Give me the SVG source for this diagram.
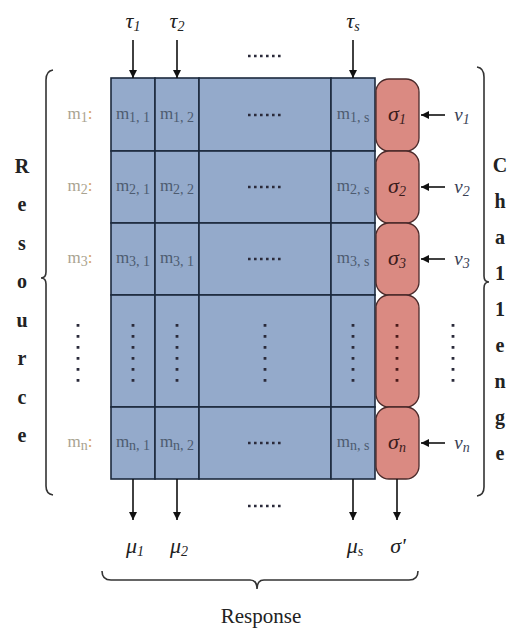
<svg xmlns="http://www.w3.org/2000/svg" width="512" height="633" viewBox="0 0 512 633">
<style>
.cell{fill:#94aacb;stroke:#1c2a3e;stroke-width:1.6}
.sig{fill:#da8a82;stroke:#4a2a2a;stroke-width:1.3}
.ct{font-family:"Liberation Serif",serif;font-size:17px;fill:#4d5b70;text-anchor:middle}
.lt{font-family:"Liberation Serif",serif;font-size:17px;fill:#a9a391;text-anchor:middle}
.gr{font-family:"Liberation Serif",serif;font-style:italic;font-size:22px;fill:#222;text-anchor:middle}
.sr{font-family:"Liberation Serif",serif;font-style:italic;font-size:22px;fill:#3a1c1c;text-anchor:middle}
.vv{font-family:"Liberation Serif",serif;font-style:italic;font-size:19px;fill:#3a3f55;text-anchor:middle}
.big{font-family:"Liberation Serif",serif;font-weight:bold;font-size:20px;fill:#222;text-anchor:middle}
.resp{font-family:"Liberation Serif",serif;font-size:21px;fill:#222;text-anchor:middle}
.sub{font-size:14px}
.arr{stroke:#111;stroke-width:1.6;fill:none}
.brace{stroke:#333;stroke-width:1.6;fill:none}
.hd{stroke:#2a2a3a;stroke-width:2.6;stroke-dasharray:2.6 3.4;fill:none}
.vd{stroke:#2a2a3a;stroke-width:2.8;stroke-dasharray:2.8 8.2;fill:none}
.vdr{stroke:#4a1a1a;stroke-width:2.8;stroke-dasharray:2.8 8.2;fill:none}
</style>
<defs>
<marker id="ahb" viewBox="0 0 10 10" refX="10" refY="5" markerWidth="14" markerHeight="8" markerUnits="userSpaceOnUse" orient="auto">
<path d="M0,0 L10,5 L0,10 z" fill="#111"/>
</marker>
</defs>

<g id="grid">
<rect class="cell" x="111" y="78" width="44" height="73"/>
<rect class="cell" x="155" y="78" width="44" height="73"/>
<rect class="cell" x="199" y="78" width="132" height="73"/>
<rect class="cell" x="331" y="78" width="44" height="73"/>
<rect class="cell" x="111" y="151" width="44" height="72"/>
<rect class="cell" x="155" y="151" width="44" height="72"/>
<rect class="cell" x="199" y="151" width="132" height="72"/>
<rect class="cell" x="331" y="151" width="44" height="72"/>
<rect class="cell" x="111" y="223" width="44" height="72"/>
<rect class="cell" x="155" y="223" width="44" height="72"/>
<rect class="cell" x="199" y="223" width="132" height="72"/>
<rect class="cell" x="331" y="223" width="44" height="72"/>
<rect class="cell" x="111" y="295" width="44" height="112"/>
<rect class="cell" x="155" y="295" width="44" height="112"/>
<rect class="cell" x="199" y="295" width="132" height="112"/>
<rect class="cell" x="331" y="295" width="44" height="112"/>
<rect class="cell" x="111" y="407" width="44" height="72"/>
<rect class="cell" x="155" y="407" width="44" height="72"/>
<rect class="cell" x="199" y="407" width="132" height="72"/>
<rect class="cell" x="331" y="407" width="44" height="72"/>
</g>

<g id="cell-texts">
<text class="ct" x="133" y="119">m<tspan class="sub" dy="3">1, 1</tspan></text>
<text class="ct" x="177" y="119">m<tspan class="sub" dy="3">1, 2</tspan></text>
<text class="ct" x="353" y="119">m<tspan class="sub" dy="3">1, s</tspan></text>
<text class="ct" x="133" y="191">m<tspan class="sub" dy="3">2, 1</tspan></text>
<text class="ct" x="177" y="191">m<tspan class="sub" dy="3">2, 2</tspan></text>
<text class="ct" x="353" y="191">m<tspan class="sub" dy="3">2, s</tspan></text>
<text class="ct" x="133" y="263">m<tspan class="sub" dy="3">3, 1</tspan></text>
<text class="ct" x="177" y="263">m<tspan class="sub" dy="3">3, 1</tspan></text>
<text class="ct" x="353" y="263">m<tspan class="sub" dy="3">3, s</tspan></text>
<text class="ct" x="133" y="447">m<tspan class="sub" dy="3">n, 1</tspan></text>
<text class="ct" x="177" y="447">m<tspan class="sub" dy="3">n, 2</tspan></text>
<text class="ct" x="353" y="447">m<tspan class="sub" dy="3">n, s</tspan></text>
<path class="hd" d="M248,115 H283 M248,187 H283 M248,259 H283 M248,443 H283 M248,506 H283 M248,56 H283"/>
<path class="vd" d="M133,324 V383 M177,324 V383 M265,324 V383 M353,324 V383 M78,324 V383 M453,324 V383"/>
</g>

<g id="row-labels">
<text class="lt" x="80" y="119">m<tspan class="sub" dy="3">1</tspan><tspan dy="-3" fill="#d9a15c">:</tspan></text>
<text class="lt" x="80" y="191">m<tspan class="sub" dy="3">2</tspan><tspan dy="-3" fill="#d9a15c">:</tspan></text>
<text class="lt" x="80" y="263">m<tspan class="sub" dy="3">3</tspan><tspan dy="-3" fill="#d9a15c">:</tspan></text>
<text class="lt" x="80" y="447">m<tspan class="sub" dy="3">n</tspan><tspan dy="-3" fill="#d9a15c">:</tspan></text>
</g>

<g id="sigma">
<rect class="sig" x="376" y="79" width="43" height="72" rx="13"/>
<rect class="sig" x="376" y="151" width="43" height="72" rx="13"/>
<rect class="sig" x="376" y="223" width="43" height="72" rx="13"/>
<rect class="sig" x="376" y="295" width="43" height="112" rx="13"/>
<rect class="sig" x="376" y="407" width="43" height="72" rx="13"/>
<text class="sr" x="397" y="121">σ<tspan class="sub" dy="3">1</tspan></text>
<text class="sr" x="397" y="193">σ<tspan class="sub" dy="3">2</tspan></text>
<text class="sr" x="397" y="265">σ<tspan class="sub" dy="3">3</tspan></text>
<text class="sr" x="397" y="449">σ<tspan class="sub" dy="3">n</tspan></text>
<path class="vdr" d="M397,324 V383"/>
</g>

<g id="connectors">
<line class="arr" x1="133" y1="40" x2="133" y2="78" marker-end="url(#ahb)"/>
<line class="arr" x1="177" y1="40" x2="177" y2="78" marker-end="url(#ahb)"/>
<line class="arr" x1="353" y1="40" x2="353" y2="78" marker-end="url(#ahb)"/>
<line class="arr" x1="133" y1="479" x2="133" y2="520" marker-end="url(#ahb)"/>
<line class="arr" x1="177" y1="479" x2="177" y2="520" marker-end="url(#ahb)"/>
<line class="arr" x1="353" y1="479" x2="353" y2="520" marker-end="url(#ahb)"/>
<line class="arr" x1="397" y1="479" x2="397" y2="520" marker-end="url(#ahb)"/>
<line class="arr" x1="445" y1="115" x2="421" y2="115" marker-end="url(#ahb)"/>
<line class="arr" x1="445" y1="187" x2="421" y2="187" marker-end="url(#ahb)"/>
<line class="arr" x1="445" y1="259" x2="421" y2="259" marker-end="url(#ahb)"/>
<line class="arr" x1="445" y1="443" x2="421" y2="443" marker-end="url(#ahb)"/>
</g>

<g id="io-labels">
<text class="gr" x="133" y="28">τ<tspan class="sub" dy="3">1</tspan></text>
<text class="gr" x="177" y="28">τ<tspan class="sub" dy="3">2</tspan></text>
<text class="gr" x="353" y="28">τ<tspan class="sub" dy="3">s</tspan></text>
<text class="gr" x="135" y="553">μ<tspan class="sub" dy="3">1</tspan></text>
<text class="gr" x="179" y="553">μ<tspan class="sub" dy="3">2</tspan></text>
<text class="gr" x="355" y="553">μ<tspan class="sub" dy="3">s</tspan></text>
<text class="gr" x="398" y="553">σ'</text>
<text class="vv" x="462" y="121">v<tspan class="sub" dy="3">1</tspan></text>
<text class="vv" x="462" y="193">v<tspan class="sub" dy="3">2</tspan></text>
<text class="vv" x="462" y="265">v<tspan class="sub" dy="3">3</tspan></text>
<text class="vv" x="462" y="449">v<tspan class="sub" dy="3">n</tspan></text>
</g>

<g id="braces">
<path class="brace" d="M53,70 Q46,71 46,80 V272 Q46,278 41,278 Q46,278 46,284 V486 Q46,494 53,495"/>
<path class="brace" d="M477,67 Q484,68 484,77 V276 Q484,282 489,282 Q484,282 484,288 V487 Q484,495 477,496"/>
<path class="brace" d="M102,571 Q102,580 111,580 H250 Q257,580 257,589 Q257,580 264,580 H409 Q418,580 418,571"/>
</g>

<g id="resource">
<text class="big" x="22" y="173">R</text>
<text class="big" x="22" y="211">e</text>
<text class="big" x="22" y="250">s</text>
<text class="big" x="22" y="288">o</text>
<text class="big" x="22" y="327">u</text>
<text class="big" x="22" y="365">r</text>
<text class="big" x="22" y="404">c</text>
<text class="big" x="22" y="442">e</text>
</g>

<g id="challenge">
<text class="big" x="500" y="172">C</text>
<text class="big" x="500" y="208">h</text>
<text class="big" x="500" y="244">a</text>
<text class="big" x="500" y="280">1</text>
<text class="big" x="500" y="316">1</text>
<text class="big" x="500" y="352">e</text>
<text class="big" x="500" y="388">n</text>
<text class="big" x="500" y="424">g</text>
<text class="big" x="500" y="460">e</text>
</g>

<g id="response">
<text class="resp" x="261" y="623">Response</text>
</g>
</svg>
